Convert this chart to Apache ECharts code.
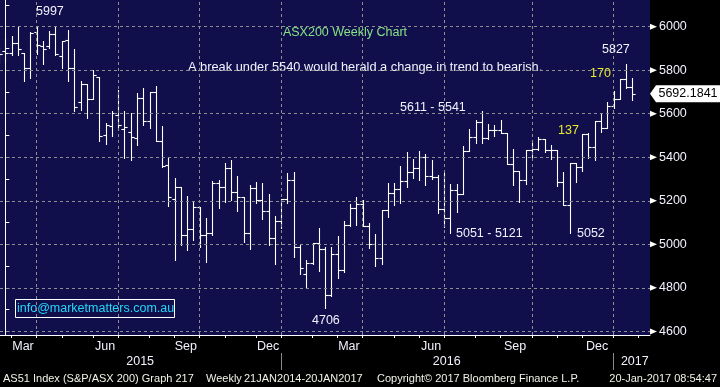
<!DOCTYPE html>
<html>
<head>
<meta charset="utf-8">
<script src="https://cdn.jsdelivr.net/npm/echarts@6/dist/echarts.min.js"></script>
<style>
html,body{margin:0;padding:0;background:#000;}
#c{width:720px;height:387px;}
</style>
</head>
<body>
<div id="c"></div>
<script>
// Weekly OHLC, ASX200 (AS51), first entry is a partially visible week at the left edge
const open  = [5860,5888,5879,5926,5880,5812,5977,5909,5912,5967,5867,5939,5812,5653,5736,5667,5767,5503,5542,5596,5530,5518,5488,5673,5567,5700,5475,5366,5207,5263,5043,5069,5171,5043,5050,5280,5265,5349,5240,5216,5050,5257,5203,5153,5027,5105,5207,5294,4990,4866,4915,5006,4978,4768,4955,4882,5088,5166,5184,5082,5001,4939,5158,5234,5253,5291,5332,5349,5402,5316,5310,5163,5121,5249,5229,5427,5493,5560,5490,5527,5524,5513,5371,5339,5295,5434,5439,5483,5434,5434,5285,5180,5372,5357,5506,5446,5566,5534,5634,5668,5760,5723];
const high  = [5905,5944,5955,5997,5880,5974,5997,5932,5982,5997,5933,5986,5898,5750,5736,5803,5770,5558,5611,5711,5614,5604,5696,5719,5700,5729,5545,5399,5306,5263,5223,5195,5171,5122,5290,5296,5375,5388,5314,5216,5273,5286,5280,5231,5130,5210,5326,5334,4996,4930,5008,5074,4987,4990,5039,5108,5184,5216,5204,5097,5048,5158,5280,5280,5359,5422,5394,5428,5414,5389,5318,5328,5279,5279,5450,5531,5573,5611,5554,5550,5573,5513,5440,5339,5434,5480,5495,5483,5457,5434,5334,5372,5372,5506,5510,5566,5600,5652,5703,5760,5827,5765];
const low   = [5835,5842,5868,5868,5752,5765,5876,5827,5902,5871,5811,5752,5611,5618,5579,5667,5474,5459,5496,5527,5395,5386,5455,5550,5534,5475,5355,5174,4928,4997,4974,5020,4990,4920,5045,5168,5196,5203,5154,5010,4979,5188,5117,4998,4909,5074,5191,4942,4863,4804,4909,4876,4706,4762,4846,4872,5085,5089,5082,4983,4899,4911,5125,5181,5189,5265,5307,5295,5272,5299,5145,5081,5051,5150,5229,5427,5467,5467,5482,5498,5513,5368,5272,5195,5277,5395,5434,5426,5391,5268,5180,5052,5288,5337,5395,5388,5514,5534,5626,5668,5720,5662];
const close = [5876,5879,5926,5898,5812,5971,5918,5898,5967,5876,5933,5812,5633,5736,5667,5777,5497,5550,5604,5548,5539,5493,5673,5567,5700,5475,5361,5217,5263,5043,5069,5171,5043,5051,5280,5265,5349,5240,5216,5050,5257,5203,5153,5027,5105,5207,5294,4990,4893,4915,5004,4978,4768,4955,4882,5088,5166,5184,5082,5001,4939,5158,5234,5253,5291,5332,5349,5402,5316,5310,5163,5121,5249,5229,5427,5493,5560,5490,5527,5524,5513,5371,5339,5295,5434,5439,5483,5434,5434,5285,5180,5372,5357,5506,5446,5566,5534,5634,5668,5760,5723,5692.1841];

// x axis: week positions
const monthTicks = [1,5,9,14,18,23,27,31,35,40,44,49,53,57,62,66,70,75,79,84,88,92,97,101];
const quarterLines = [5,18,31,44,57,70,84,97];
const monthLabels = ['Mar','Jun','Sep','Dec','Mar','Jun','Sep','Dec'];
const monthLabelPos = [2.82,15.9,28.8,41.9,54.8,67.9,81.3,94.4];
const yearLabels = ['2015','2016','2017'];
const yearLabelPos = [21.5,70.4,100.4];
const yearSeparators = [44,97];
// y axis
const yLabels = [4600,4800,5000,5200,5400,5600,5800,6000];
const yMinorTicks = [4600,4700,4800,4900,5000,5100,5200,5300,5400,5500,5600,5700,5800,5900,6000,6100];
const lastPrice = 5692.1841;

const XMIN = -0.85, XMAX = 102.82, YMIN = 4583.5, YMAX = 6122.5;
const FONT = '"Liberation Sans", Arial, sans-serif';

const data = open.map((o, i) => [i - 1, o, high[i], low[i], close[i]]);

function renderItem(params, api) {
  const x = api.value(0);
  const pH = api.coord([x, api.value(2)]);
  const pL = api.coord([x, api.value(3)]);
  const pO = api.coord([x, api.value(1)]);
  const pC = api.coord([x, api.value(4)]);
  const w = api.size([1, 0])[0] * 0.5;
  const px = Math.round(pH[0]) + 0.5;
  const yo = Math.round(pO[1]) + 0.5, yc = Math.round(pC[1]) + 0.5;
  const st = {stroke: '#ffffff', lineWidth: 1.1};
  return {
    type: 'group',
    children: [
      {type: 'line', shape: {x1: px, y1: Math.round(pH[1]), x2: px, y2: Math.round(pL[1]) + 1}, style: st},
      {type: 'line', shape: {x1: px - w, y1: yo, x2: px, y2: yo}, style: st},
      {type: 'line', shape: {x1: px, y1: yc, x2: px + w, y2: yc}, style: st}
    ]
  };
}

const gridLineData = yLabels.map(v => ({yAxis: v})).concat(quarterLines.map(v => ({xAxis: v})));
const arrowData = yLabels.map(v => ({coord: [XMAX, v]}));

const chart = echarts.init(document.getElementById('c'), null, {renderer: 'canvas'});
chart.setOption({
  animation: false,
  backgroundColor: '#000000',
  grid: {left: 0, top: 0, width: 650, height: 335, show: true, backgroundColor: '#100e4b', borderWidth: 0},
  xAxis: [
    {
      type: 'value', min: XMIN, max: XMAX, position: 'bottom',
      axisLine: {show: true, onZero: false, lineStyle: {color: '#ffffff', width: 1}},
      axisTick: {show: true, customValues: monthTicks, length: 3, lineStyle: {color: '#ffffff'}},
      axisLabel: {
        show: true, customValues: monthLabelPos, margin: 5,
        formatter: v => monthLabels[monthLabelPos.indexOf(v)] || '',
        color: '#f2f2ff', fontSize: 12.5, fontFamily: FONT
      },
      splitLine: {show: false}
    },
    {
      type: 'value', min: XMIN, max: XMAX, position: 'bottom', offset: 18, gridIndex: 0,
      axisLine: {show: false},
      axisTick: {show: true, customValues: yearSeparators, length: 17, lineStyle: {color: '#8a8a8a'}},
      axisLabel: {
        show: true, customValues: yearLabelPos, margin: 2,
        formatter: v => yearLabels[yearLabelPos.indexOf(v)] || '',
        color: '#f2f2ff', fontSize: 12.5, fontFamily: FONT
      },
      splitLine: {show: false}
    }
  ],
  yAxis: {
    type: 'value', position: 'right', min: YMIN, max: YMAX,
    axisLine: {show: true, lineStyle: {color: '#ffffff', width: 1}},
    axisTick: {show: true, customValues: yMinorTicks, length: 4, lineStyle: {color: '#ffffff'}},
    axisLabel: {
      show: true, customValues: yLabels, margin: 9,
      formatter: v => String(v),
      color: '#f2f2ff', fontSize: 12.5, fontFamily: FONT
    },
    splitLine: {show: false}
  },
  series: [
    {
      type: 'line', data: [], z: 1, silent: true,
      markLine: {
        silent: true, symbol: ['none', 'none'], label: {show: false},
        lineStyle: {color: '#8f8f8f', width: 1, type: [3, 3]},
        data: gridLineData
      }
    },
    {
      type: 'custom', renderItem: renderItem, data: data, clip: true, z: 3,
      encode: {x: 0, y: [1, 2, 3, 4]}
    },
    {
      type: 'line', data: [], z: 5, silent: true,
      markPoint: {
        silent: true,
        data: arrowData.map(d => Object.assign({
          symbol: 'path://M0,0L10,5L0,10Z', symbolSize: [7, 6], symbolOffset: [3.5, 0],
          itemStyle: {color: '#ffffff'}, label: {show: false}
        }, d)).concat([{
          coord: [XMAX, lastPrice],
          symbol: 'path://M0,8L6,0L70,0L70,16L6,16Z', symbolSize: [70, 17], symbolOffset: [35, 0],
          symbolKeepAspect: false,
          itemStyle: {color: '#ffffff'},
          label: {show: true, formatter: String(lastPrice), color: '#000000', fontSize: 12.5, fontFamily: FONT, position: 'inside', offset: [3, 0]}
        }])
      }
    }
  ],
  graphic: [
    {type: 'text', style: {text: '5997', x: 36, y: 12, fill: '#f2f2ff', font: '12.5px ' + FONT, textVerticalAlign: 'middle'}},
    {type: 'text', style: {text: 'ASX200 Weekly Chart', x: 345, y: 33, fill: '#86e486', font: '12.5px ' + FONT, textAlign: 'center', textVerticalAlign: 'middle'}},
    {type: 'text', style: {text: 'A break under 5540 would herald a change in trend to bearish.', x: 188, y: 67, fill: '#f2f2ff', font: '12.8px ' + FONT, textVerticalAlign: 'middle'}},
    {type: 'text', style: {text: '5611 - 5541', x: 400, y: 108, fill: '#f2f2ff', font: '12.5px ' + FONT, textVerticalAlign: 'middle'}},
    {type: 'text', style: {text: '5827', x: 602, y: 50, fill: '#f2f2ff', font: '12.5px ' + FONT, textVerticalAlign: 'middle'}},
    {type: 'text', style: {text: '170', x: 590, y: 74, fill: '#e8ec2a', font: '12.5px ' + FONT, textVerticalAlign: 'middle'}},
    {type: 'text', style: {text: '137', x: 558, y: 131, fill: '#e8ec2a', font: '12.5px ' + FONT, textVerticalAlign: 'middle'}},
    {type: 'text', style: {text: '5051 - 5121', x: 456, y: 234, fill: '#f2f2ff', font: '12.5px ' + FONT, textVerticalAlign: 'middle'}},
    {type: 'text', style: {text: '5052', x: 577, y: 234, fill: '#f2f2ff', font: '12.5px ' + FONT, textVerticalAlign: 'middle'}},
    {type: 'text', style: {text: '4706', x: 312, y: 321, fill: '#f2f2ff', font: '12.5px ' + FONT, textVerticalAlign: 'middle'}},
    {type: 'rect', shape: {x: 15.5, y: 299.5, width: 159, height: 18}, style: {fill: 'none', stroke: '#ffffff', lineWidth: 1}},
    {type: 'text', style: {text: 'info@marketmatters.com.au', x: 17, y: 309, fill: '#22d8f8', font: '12.5px ' + FONT, textVerticalAlign: 'middle'}},
    {type: 'text', style: {text: 'AS51 Index (S&P/ASX 200) Graph 217', x: 3, y: 379, fill: '#f2f2e6', font: '11px ' + FONT, textVerticalAlign: 'middle'}},
    {type: 'text', style: {text: 'Weekly', x: 206, y: 379, fill: '#f2f2e6', font: '11px ' + FONT, textVerticalAlign: 'middle'}},
    {type: 'text', style: {text: '21JAN2014-20JAN2017', x: 244, y: 379, fill: '#f2f2e6', font: '11px ' + FONT, textVerticalAlign: 'middle'}},
    {type: 'text', style: {text: 'Copyright\u00a9 2017 Bloomberg Finance L.P.', x: 377, y: 379, fill: '#f2f2e6', font: '11px ' + FONT, textVerticalAlign: 'middle'}},
    {type: 'text', style: {text: '20-Jan-2017 08:54:47', x: 717, y: 379, fill: '#f2f2e6', font: '11px ' + FONT, textAlign: 'right', textVerticalAlign: 'middle'}}
  ]
});
</script>
</body>
</html>
